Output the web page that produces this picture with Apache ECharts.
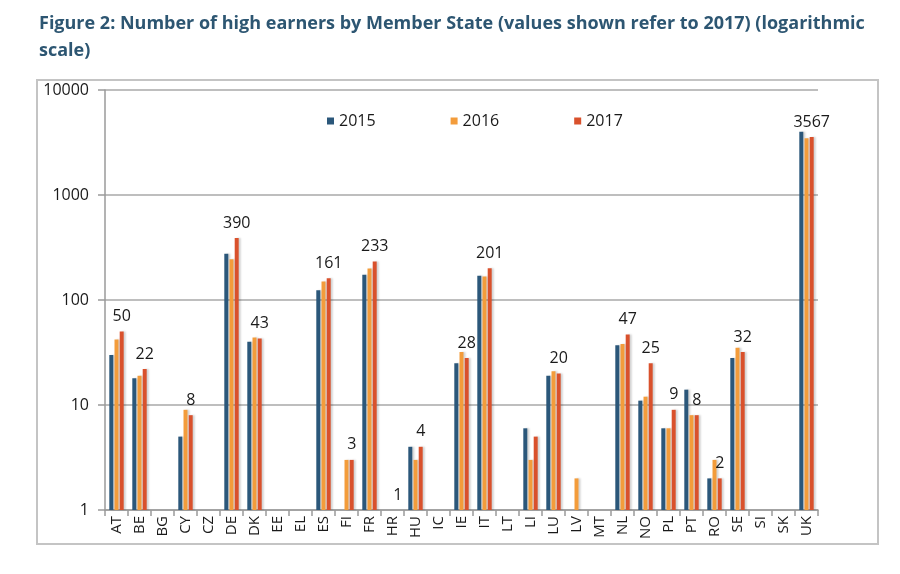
<!DOCTYPE html>
<html>
<head>
    <meta charset="utf-8"/>
    <title>High earners by Member State</title>
    <style>
        body { margin: 0; background: #fff; }
        #frame { position: absolute; left: 36px; top: 79px; width: 843px; height: 466px; border: 2px solid #c4c4c4; box-sizing: border-box; }
        #main { position: absolute; left: 0; top: 0; width: 900px; height: 574px; }
    </style>
</head>
<body>
<div id="frame"></div>
<div id="main"></div>
<script src="https://cdn.jsdelivr.net/npm/echarts@6/dist/echarts.min.js"></script>
<script>
    var countries = ['AT', 'BE', 'BG', 'CY', 'CZ', 'DE', 'DK', 'EE', 'EL', 'ES', 'FI', 'FR', 'HR', 'HU', 'IC',
        'IE', 'IT', 'LT', 'LI', 'LU', 'LV', 'MT', 'NL', 'NO', 'PL', 'PT', 'RO', 'SE', 'SI', 'SK', 'UK'];
    var years = ['2015', '2016', '2017'];
    var v2015 = [30, 18, null, 5, null, 275, 40, null, null, 124, null, 174, null, 4, null,
        25, 170, null, 6, 19, null, null, 37, 11, 6, 14, 2, 28, null, null, 4000];
    var v2016 = [42, 19, null, 9, null, 245, 44, null, null, 150, 3, 200, null, 3, null,
        32, 167, null, 3, 21, 2, null, 38, 12, 6, 8, 3, 35, null, null, 3470];
    var v2017 = [50, 22, null, 8, null, 390, 43, null, null, 161, 3, 233, 1, 4, null,
        28, 201, null, 5, 20, null, null, 47, 25, 9, 8, 2, 32, null, null, 3567];
    // 2017 values that carry a label in the figure
    var labelled = ['AT', 'BE', 'CY', 'DE', 'DK', 'ES', 'FI', 'FR', 'HR', 'HU', 'IE', 'IT', 'LU',
        'NL', 'NO', 'PL', 'PT', 'RO', 'SE', 'UK'];
    var colors = ['#2b577a', '#f39c3b', '#d9512c'];

    var myChart = echarts.init(document.getElementById('main'));

    function mkSeries(name, values, color, withLabel) {
        return {
            name: name,
            type: 'bar',
            barWidth: 4,
            barGap: '30%',
            itemStyle: {
                color: color,
                shadowColor: 'rgba(0,0,0,0.18)',
                shadowBlur: 2,
                shadowOffsetX: 2
            },
            data: values.map(function (v, i) {
                if (v === null) return '-';
                if (withLabel && labelled.indexOf(countries[i]) >= 0) {
                    return {value: v, label: {show: true}};
                }
                return v;
            }),
            label: {
                show: false,
                position: 'top',
                distance: 7,
                color: '#1a1a1a',
                fontSize: 16,
                fontFamily: 'Open Sans'
            }
        };
    }

    var option = {
        animation: false,
        title: {
            text: 'Figure 2: Number of high earners by Member State (values shown refer to 2017) (logarithmic\nscale)',
            left: 34,
            top: 5,
            textStyle: {
                color: '#2d5672',
                fontSize: 18,
                fontWeight: 'bold',
                fontFamily: 'Open Sans',
                lineHeight: 27
            }
        },
        legend: {
            data: years,
            top: 108,
            left: 322,
            itemGap: 75,
            itemWidth: 7,
            itemHeight: 7,
            icon: 'rect',
            textStyle: {color: '#1a1a1a', fontSize: 16, fontFamily: 'Open Sans'}
        },
        grid: {left: 105, right: 82, top: 90, bottom: 64},
        xAxis: {
            type: 'category',
            data: countries,
            axisLine: {lineStyle: {color: '#9a9a9a', width: 1.5}},
            axisTick: {show: true, length: 6, lineStyle: {color: '#9a9a9a', width: 1.5}},
            axisLabel: {rotate: 90, color: '#1a1a1a', fontSize: 15, fontFamily: 'Open Sans', margin: 6}
        },
        yAxis: {
            type: 'log',
            logBase: 10,
            min: 1,
            max: 10000,
            axisLine: {show: true, lineStyle: {color: '#9a9a9a', width: 1.5}},
            axisTick: {show: true, length: 7, lineStyle: {color: '#9a9a9a', width: 1.5}},
            splitLine: {lineStyle: {color: '#a8a8a8', width: 1.5}},
            axisLabel: {
                color: '#1a1a1a', fontSize: 16, fontFamily: 'Open Sans', margin: 16,
                formatter: function (v) { return String(Math.round(v)); }
            }
        },
        series: [
            mkSeries(years[0], v2015, colors[0], false),
            mkSeries(years[1], v2016, colors[1], false),
            mkSeries(years[2], v2017, colors[2], true)
        ]
    };

    myChart.setOption(option);
</script>
</body>
</html>
